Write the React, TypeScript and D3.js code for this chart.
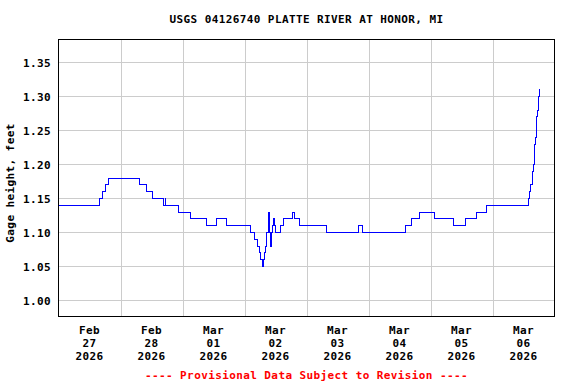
import React from "react";
import * as d3 from "d3";

// Change points: hours since 2026-02-27 00:00 and gage height (ft) starting at that time
const changeHours = [
  0, 15.7, 16.95, 18.1, 19.3, 31.3, 33.9, 36.4, 40.6, 41.3, 41.5, 46.5, 51.2, 57.4, 61.2, 65.1,
  74.3, 75.8, 77.2, 77.9, 78.3, 79.0, 79.5, 79.9, 80.3, 80.6, 80.7, 81.1, 81.4, 81.65, 81.9,
  82.4, 82.8, 83.2, 83.6, 84.0, 86.1, 87.2, 90.5, 91.2, 93.1, 103.9, 116.1, 117.6, 134.4,
  136.7, 139.7, 145.5, 153.0, 157.7, 161.7, 165.7, 182.0, 182.5, 182.9, 183.3, 183.6, 183.8,
  184.1, 184.3, 184.6, 184.9, 185.2, 185.5, 185.7, 186.0, 186.2,
];
const changeValues = [
  1.14, 1.15, 1.16, 1.17, 1.18, 1.17, 1.16, 1.15, 1.14, 1.15, 1.14, 1.13, 1.12, 1.11, 1.12, 1.11,
  1.10, 1.09, 1.08, 1.07, 1.06, 1.05, 1.06, 1.07, 1.08, 1.09, 1.10, 1.12, 1.13, 1.10, 1.08,
  1.10, 1.11, 1.12, 1.11, 1.10, 1.11, 1.12, 1.13, 1.12, 1.11, 1.10, 1.11, 1.10, 1.11,
  1.12, 1.13, 1.12, 1.11, 1.12, 1.13, 1.14, 1.15, 1.16, 1.17, 1.18, 1.19, 1.20,
  1.22, 1.23, 1.24, 1.25, 1.27, 1.28, 1.30, 1.31, 1.31,
];

const yTicks = [1.0, 1.05, 1.1, 1.15, 1.2, 1.25, 1.3, 1.35];
const dayMonths = ["Feb", "Feb", "Mar", "Mar", "Mar", "Mar", "Mar", "Mar"];
const dayNums = ["27", "28", "01", "02", "03", "04", "05", "06"];
const dayYears = ["2026", "2026", "2026", "2026", "2026", "2026", "2026", "2026"];

const title = "USGS 04126740 PLATTE RIVER AT HONOR, MI";
const yLabel = "Gage height, feet";
const footer = "---- Provisional Data Subject to Revision ----";

const W = 576;
const H = 384;
const L = 58.5, R = 554.5, T = 39.5, B = 316.5;

const FONT = "'DejaVu Sans Mono', 'Liberation Mono', monospace";

export default function App() {
  const x = d3.scaleLinear().domain([0, 192]).range([L, R]);
  const y = d3.scaleLinear().domain([0.97647, 1.38382]).range([B, T]);
  const pts: [number, number][] = changeHours.map((h, i) => [h, changeValues[i]]);
  const line = d3
    .line<[number, number]>()
    .x((d) => x(d[0]))
    .y((d) => y(d[1]))
    .curve(d3.curveStepAfter);
  const dayGrid = d3.range(1, 8).map((d) => d * 24);
  const textStyle: React.CSSProperties = {
    fontFamily: FONT,
    fontWeight: "bold",
    fontSize: 11,
    letterSpacing: 0.4,
  };
  return (
    <svg
      width={W}
      height={H}
      style={{ position: "absolute", left: 0, top: 0, background: "#fff" }}
    >
      <rect x={0} y={0} width={W} height={H} fill="#fff" />
      <g stroke="#cccccc" strokeWidth={1} shapeRendering="crispEdges">
        {yTicks.map((t) => (
          <line key={"h" + t} x1={L} x2={R} y1={Math.round(y(t)) + 0.5} y2={Math.round(y(t)) + 0.5} />
        ))}
        {dayGrid.map((h) => (
          <line key={"v" + h} x1={Math.round(x(h)) + 0.5} x2={Math.round(x(h)) + 0.5} y1={T} y2={B} />
        ))}
      </g>
      <path
        d={line(pts) || ""}
        fill="none"
        stroke="#0000ff"
        strokeWidth={1}
        shapeRendering="crispEdges"
      />
      <rect
        x={L}
        y={T}
        width={R - L}
        height={B - T}
        fill="none"
        stroke="#000"
        strokeWidth={1}
        shapeRendering="crispEdges"
      />
      <g style={textStyle} fill="#000">
        <text x={306.5} y={23} textAnchor="middle">{title}</text>
        {yTicks.map((t) => (
          <text key={"yl" + t} x={51} y={Math.round(y(t)) + 5} textAnchor="end">
            {t.toFixed(2)}
          </text>
        ))}
        {dayNums.map((n, i) => {
          const cx = x(i * 24 + 12);
          return (
            <g key={"xl" + i}>
              <text x={cx} y={334} textAnchor="middle">{dayMonths[i]}</text>
              <text x={cx} y={347} textAnchor="middle">{n}</text>
              <text x={cx} y={360} textAnchor="middle">{dayYears[i]}</text>
            </g>
          );
        })}
        <text
          transform={`translate(14,183) rotate(-90)`}
          textAnchor="middle"
        >
          {yLabel}
        </text>
        <text x={306.5} y={379} textAnchor="middle" fill="#ff0000">{footer}</text>
      </g>
    </svg>
  );
}
